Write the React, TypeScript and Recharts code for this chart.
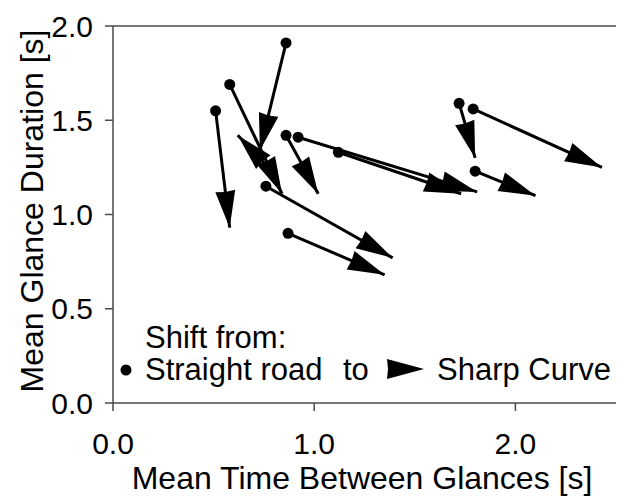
import React from "react";
import {
  LineChart,
  Line,
  XAxis,
  YAxis,
  ReferenceLine,
  Legend,
} from "recharts";

// each arrow: shift from straight road (start) to sharp curve (end)
const startX = [0.79, 0.86, 0.58, 0.51, 0.86, 0.92, 1.12, 0.76, 0.87, 1.72, 1.79, 1.8];
const startY = [1.23, 1.91, 1.69, 1.55, 1.42, 1.41, 1.33, 1.15, 0.9, 1.59, 1.56, 1.23];
const endX = [0.62, 0.73, 0.84, 0.58, 1.02, 1.81, 1.73, 1.39, 1.35, 1.8, 2.43, 2.1];
const endY = [1.42, 1.34, 1.11, 0.93, 1.11, 1.12, 1.11, 0.77, 0.68, 1.3, 1.25, 1.1];

const xTicks = [0, 1, 2];
const yTicks = [0, 0.5, 1, 1.5, 2];

const FONT = "'Liberation Sans', Arial, Helvetica, sans-serif";
const AXIS = "#4a4a4a";
const HEAD_LEN = 37;
const HEAD_W = 10;
const NOTCH = 1;

const arrows = startX.map((sx, i) => [
  { x: sx, y: startY[i] },
  { x: endX[i], y: endY[i] },
]);

const headPath = (tx: number, ty: number, ux: number, uy: number) => {
  const bx = tx - ux * HEAD_LEN;
  const by = ty - uy * HEAD_LEN;
  const nx = tx - ux * (HEAD_LEN - NOTCH);
  const ny = ty - uy * (HEAD_LEN - NOTCH);
  return `M${tx},${ty} L${bx - uy * HEAD_W},${by + ux * HEAD_W} L${nx},${ny} L${bx + uy * HEAD_W},${by - ux * HEAD_W} Z`;
};

const ArrowDot = (props: any) => {
  const { cx, cy, index, points, dataKey } = props;
  const key = `${dataKey}-${index}-${cx}`;
  if (index === 0) {
    return <circle key={key} cx={cx} cy={cy} r={5.5} fill="#000" />;
  }
  const p0 = points && points[0];
  if (!p0) return <g key={key} />;
  const dx = cx - p0.x;
  const dy = cy - p0.y;
  const len = Math.sqrt(dx * dx + dy * dy) || 1;
  return <path key={key} d={headPath(cx, cy, dx / len, dy / len)} fill="#000" />;
};

const LegendBox = () => (
  <svg width={618} height={80} style={{ display: "block", overflow: "visible" }}>
    <g fontFamily={FONT} fontSize={31} fill="#000">
      <text x={145} y={30}>Shift from:</text>
      <circle cx={126} cy={52} r={5.5} fill="#000" />
      <text x={145} y={62}>Straight road</text>
      <text x={343} y={62}>to</text>
      <path d={headPath(424, 51, 1, 0)} fill="#000" />
      <text x={437} y={62}>Sharp Curve</text>
    </g>
  </svg>
);

export default function App() {
  return (
    <div style={{ position: "absolute", left: 0, top: 0, width: 618, height: 498, background: "#fff" }}>
      <LineChart
        width={618}
        height={498}
        margin={{ top: 26, right: 2, left: 0, bottom: 0 }}
      >
        <XAxis
          type="number"
          dataKey="x"
          domain={[0, 2.5]}
          ticks={xTicks}
          allowDataOverflow
          height={95}
          tickSize={8}
          tickMargin={22}
          tickFormatter={(v: number) => v.toFixed(1)}
          tick={{ fontSize: 30, fill: "#000", fontFamily: FONT }}
          stroke={AXIS}
          strokeWidth={1.5}
          label={{
            content: () => (
              <text x={362} y={489} textAnchor="middle" fontSize={32} fontFamily={FONT} fill="#000">
                Mean Time Between Glances [s]
              </text>
            ),
          }}
        />
        <YAxis
          type="number"
          domain={[0, 2]}
          ticks={yTicks}
          allowDataOverflow
          width={113}
          tickSize={8}
          tickMargin={12}
          tickFormatter={(v: number) => v.toFixed(1)}
          tick={{ fontSize: 30, fill: "#000", fontFamily: FONT }}
          stroke={AXIS}
          strokeWidth={1.5}
          label={{
            content: () => (
              <text
                x={43}
                y={211}
                transform="rotate(-90 43 211)"
                textAnchor="middle"
                fontSize={32}
                fontFamily={FONT}
                fill="#000"
              >
                Mean Glance Duration [s]
              </text>
            ),
          }}
        />
        <ReferenceLine y={2} stroke={AXIS} strokeWidth={1.5} />
        <Legend
          verticalAlign="middle"
          align="center"
          content={() => <LegendBox />}
          wrapperStyle={{ left: 0, top: 318, width: 618 }}
        />
        {arrows.map((d, i) => (
          <Line
            key={i}
            data={d}
            dataKey="y"
            name={`arrow${i}`}
            stroke="#000"
            strokeWidth={3}
            dot={ArrowDot}
            activeDot={false}
            legendType="none"
            isAnimationActive={false}
          />
        ))}
      </LineChart>
    </div>
  );
}
